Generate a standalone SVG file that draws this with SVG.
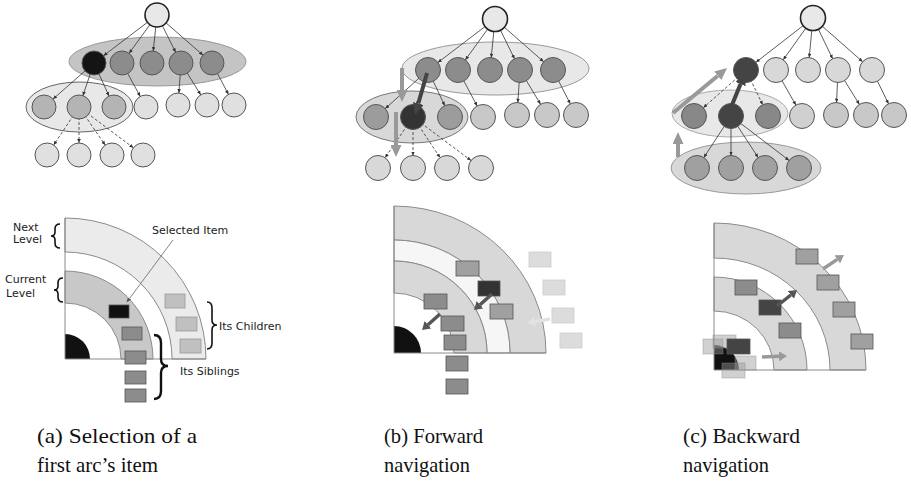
<svg xmlns="http://www.w3.org/2000/svg" width="911" height="485" viewBox="0 0 911 485">
<defs>
<style>
.n{stroke:#555;stroke-width:1}
.rt{fill:#e8e8e8;stroke:#222;stroke-width:1.6}
.e{stroke:#333;stroke-width:0.8;fill:none}
.ds{stroke-dasharray:3 2}
.lbl{font-family:"DejaVu Sans",Verdana,sans-serif;font-size:11px;fill:#222}
.cap{font-family:"Liberation Serif","Times New Roman",serif;font-size:21px;fill:#111}
.br{fill:none;stroke:#111;stroke-width:1.6}
.q{stroke:#8a8a8a;stroke-width:1}
.rk{stroke:#555;stroke-width:0.8}
</style>
<marker id="e12" markerUnits="userSpaceOnUse" markerWidth="4" markerHeight="3.6" refX="16" refY="1.8" orient="auto"><path d="M0,0 L4,1.8 L0,3.6 Z" fill="#333"/></marker>
<marker id="e125" markerUnits="userSpaceOnUse" markerWidth="4" markerHeight="3.6" refX="16.5" refY="1.8" orient="auto"><path d="M0,0 L4,1.8 L0,3.6 Z" fill="#333"/></marker>
<marker id="bg" markerUnits="userSpaceOnUse" markerWidth="12" markerHeight="11" refX="0" refY="5.5" orient="auto"><path d="M0,0 L12,5.5 L0,11 Z" fill="#999"/></marker>
<marker id="bd" markerUnits="userSpaceOnUse" markerWidth="12" markerHeight="11" refX="0" refY="5.5" orient="auto"><path d="M0,0 L12,5.5 L0,11 Z" fill="#444"/></marker>
<marker id="sd" markerUnits="userSpaceOnUse" markerWidth="8" markerHeight="10" refX="0" refY="5" orient="auto"><path d="M0,0 L8,5 L0,10 Z" fill="#555"/></marker>
<marker id="sg" markerUnits="userSpaceOnUse" markerWidth="8" markerHeight="10" refX="0" refY="5" orient="auto"><path d="M0,0 L8,5 L0,10 Z" fill="#999"/></marker>
<marker id="sl" markerUnits="userSpaceOnUse" markerWidth="8" markerHeight="10" refX="0" refY="5" orient="auto"><path d="M0,0 L8,5 L0,10 Z" fill="#e2e2e2"/></marker>
<marker id="ta" markerUnits="userSpaceOnUse" markerWidth="5" markerHeight="4" refX="0" refY="2" orient="auto"><path d="M0,0 L5,2 L0,4 Z" fill="#555"/></marker>
</defs>
<rect width="911" height="485" fill="#fff"/>

<!-- ===== Panel (a) tree ===== -->
<g id="a-groups">
<ellipse cx="157.5" cy="61.5" rx="88.5" ry="24.5" fill="#c4c4c4" stroke="#999"/>
<ellipse cx="79.5" cy="107" rx="53.5" ry="25" fill="#e8e8e8" stroke="#666"/>
</g>

<!-- ===== Panel (b) tree ===== -->
<g id="b-groups">
<ellipse cx="495.5" cy="68.5" rx="93.5" ry="26.5" fill="#e8e8e8" stroke="#999"/>
<ellipse cx="412" cy="117" rx="56" ry="26" fill="#d8d8d8" stroke="#777"/>
</g>

<!-- ===== Panel (c) tree ===== -->
<g id="c-groups">
<ellipse cx="730" cy="113.5" rx="58" ry="23.5" fill="#e8e8e8" stroke="#aaa"/>
<ellipse cx="746" cy="168" rx="75" ry="26" fill="#d8d8d8" stroke="#999"/>
</g>

<g id="connectors">
<!-- (a) -->
<g class="e" marker-end="url(#e12)">
<line x1="157" y1="15" x2="94" y2="63"/>
<line x1="157" y1="15" x2="122" y2="63"/>
<line x1="157" y1="15" x2="152" y2="63"/>
<line x1="157" y1="15" x2="181" y2="63"/>
<line x1="157" y1="15" x2="212" y2="63"/>
<line x1="94" y1="63" x2="44" y2="107"/>
<line x1="94" y1="63" x2="79" y2="107"/>
<line x1="94" y1="63" x2="114" y2="107"/>
<line x1="122" y1="63" x2="146" y2="107"/>
<line x1="181" y1="63" x2="178" y2="105"/>
<line x1="181" y1="63" x2="207" y2="105"/>
<line x1="212" y1="63" x2="234" y2="105"/>
<line class="ds" x1="79" y1="107" x2="47" y2="155"/>
<line class="ds" x1="79" y1="107" x2="79" y2="155"/>
<line class="ds" x1="79" y1="107" x2="112" y2="155"/>
<line class="ds" x1="79" y1="107" x2="143" y2="155"/>
</g>
<!-- (b) -->
<g class="e" marker-end="url(#e125)">
<line x1="495" y1="19" x2="428" y2="70"/>
<line x1="495" y1="19" x2="458" y2="70"/>
<line x1="495" y1="19" x2="490" y2="70"/>
<line x1="495" y1="19" x2="520" y2="70"/>
<line x1="495" y1="19" x2="553" y2="70"/>
<line x1="428" y1="70" x2="376" y2="117"/>
<line x1="428" y1="70" x2="413" y2="117"/>
<line x1="428" y1="70" x2="450" y2="117"/>
<line x1="458" y1="70" x2="483" y2="117"/>
<line x1="520" y1="70" x2="517" y2="115"/>
<line x1="520" y1="70" x2="547" y2="115"/>
<line x1="553" y1="70" x2="576" y2="115"/>
<line class="ds" x1="413" y1="117" x2="378" y2="168"/>
<line class="ds" x1="413" y1="117" x2="413" y2="168"/>
<line class="ds" x1="413" y1="117" x2="447" y2="168"/>
<line class="ds" x1="413" y1="117" x2="481" y2="168"/>
</g>
<!-- (c) -->
<g class="e" marker-end="url(#e125)">
<line x1="813" y1="18" x2="746" y2="70"/>
<line x1="813" y1="18" x2="776" y2="70"/>
<line x1="813" y1="18" x2="808" y2="70"/>
<line x1="813" y1="18" x2="838" y2="70"/>
<line x1="813" y1="18" x2="872" y2="70"/>
<line class="ds" x1="746" y1="70" x2="694" y2="116"/>
<line class="ds" x1="746" y1="70" x2="768" y2="116"/>
<line x1="776" y1="70" x2="802" y2="116"/>
<line x1="838" y1="70" x2="836" y2="115"/>
<line x1="838" y1="70" x2="866" y2="115"/>
<line x1="872" y1="70" x2="894" y2="115"/>
<line x1="731" y1="116" x2="697" y2="168"/>
<line x1="731" y1="116" x2="731" y2="168"/>
<line x1="731" y1="116" x2="765" y2="168"/>
<line x1="731" y1="116" x2="799" y2="168"/>
</g>
</g>

<!-- nodes (a) -->
<g id="a-root"><circle class="rt" cx="157" cy="15" r="12"/></g>
<g id="a-l1"><circle class="n" cx="94" cy="63" r="12" fill="#141414"/><circle class="n" cx="122" cy="63" r="12" fill="#8c8c8c"/><circle class="n" cx="152" cy="63" r="12" fill="#8c8c8c"/><circle class="n" cx="181" cy="63" r="12" fill="#8c8c8c"/><circle class="n" cx="212" cy="63" r="12" fill="#8c8c8c"/></g>
<g id="a-l2"><circle class="n" cx="44" cy="107" r="12" fill="#b4b4b4"/><circle class="n" cx="79" cy="107" r="12" fill="#b4b4b4"/><circle class="n" cx="114" cy="107" r="12" fill="#b4b4b4"/><circle class="n" cx="146" cy="107" r="12" fill="#e0e0e0"/><circle class="n" cx="178" cy="105" r="12" fill="#e0e0e0"/><circle class="n" cx="207" cy="105" r="12" fill="#e0e0e0"/><circle class="n" cx="234" cy="105" r="12" fill="#e0e0e0"/></g>
<g id="a-l3"><circle class="n" cx="47" cy="155" r="12" fill="#e0e0e0"/><circle class="n" cx="79" cy="155" r="12" fill="#e0e0e0"/><circle class="n" cx="112" cy="155" r="12" fill="#e0e0e0"/><circle class="n" cx="143" cy="155" r="12" fill="#e0e0e0"/></g>

<!-- nodes (b) -->
<g id="b-root"><circle class="rt" cx="495" cy="19" r="12.5"/></g>
<g id="b-l1"><circle class="n" cx="428" cy="70" r="12.5" fill="#8c8c8c"/><circle class="n" cx="458" cy="70" r="12.5" fill="#8c8c8c"/><circle class="n" cx="490" cy="70" r="12.5" fill="#8c8c8c"/><circle class="n" cx="520" cy="70" r="12.5" fill="#8c8c8c"/><circle class="n" cx="553" cy="70" r="12.5" fill="#8c8c8c"/></g>
<g id="b-l2"><circle class="n" cx="376" cy="117" r="12.5" fill="#9c9c9c"/><circle class="n" cx="413" cy="117" r="12.5" fill="#333"/><circle class="n" cx="450" cy="117" r="12.5" fill="#9c9c9c"/><circle class="n" cx="483" cy="117" r="12.5" fill="#c8c8c8"/><circle class="n" cx="517" cy="115" r="12.5" fill="#c8c8c8"/><circle class="n" cx="547" cy="115" r="12.5" fill="#c8c8c8"/><circle class="n" cx="576" cy="115" r="12.5" fill="#c8c8c8"/></g>
<g id="b-l3"><circle class="n" cx="378" cy="168" r="12.5" fill="#d8d8d8"/><circle class="n" cx="413" cy="168" r="12.5" fill="#d8d8d8"/><circle class="n" cx="447" cy="168" r="12.5" fill="#d8d8d8"/><circle class="n" cx="481" cy="168" r="12.5" fill="#d8d8d8"/></g>
<g id="b-moves">
<line x1="402" y1="68" x2="402" y2="90" stroke="#999" stroke-width="4" marker-end="url(#bg)"/>
<line x1="396" y1="112" x2="396" y2="145" stroke="#999" stroke-width="4" marker-end="url(#bg)"/>
<line x1="427" y1="73" x2="418.3" y2="103.5" stroke="#444" stroke-width="4" marker-end="url(#bd)"/>
</g>

<!-- nodes (c) -->
<g id="c-root"><circle class="rt" cx="813" cy="18" r="12.5"/></g>
<g id="c-l1"><circle class="n" cx="746" cy="70" r="12.5" fill="#444"/><circle class="n" cx="776" cy="70" r="12.5" fill="#d8d8d8"/><circle class="n" cx="808" cy="70" r="12.5" fill="#d8d8d8"/><circle class="n" cx="838" cy="70" r="12.5" fill="#d8d8d8"/><circle class="n" cx="872" cy="70" r="12.5" fill="#d8d8d8"/></g>
<g id="c-l2"><circle class="n" cx="694" cy="116" r="12.5" fill="#888"/><circle class="n" cx="731" cy="116" r="12.5" fill="#444"/><circle class="n" cx="768" cy="116" r="12.5" fill="#888"/><circle class="n" cx="802" cy="116" r="12.5" fill="#d0d0d0"/><circle class="n" cx="836" cy="115" r="12.5" fill="#c8c8c8"/><circle class="n" cx="866" cy="115" r="12.5" fill="#c8c8c8"/><circle class="n" cx="894" cy="115" r="12.5" fill="#c8c8c8"/></g>
<g id="c-l3"><circle class="n" cx="697" cy="168" r="12.5" fill="#a0a0a0"/><circle class="n" cx="731" cy="168" r="12.5" fill="#a0a0a0"/><circle class="n" cx="765" cy="168" r="12.5" fill="#a0a0a0"/><circle class="n" cx="799" cy="168" r="12.5" fill="#a0a0a0"/></g>
<g id="c-moves">
<line x1="673" y1="113" x2="717.8" y2="75.7" stroke="#999" stroke-width="4" marker-end="url(#bg)"/>
<line x1="678" y1="157" x2="678" y2="144" stroke="#999" stroke-width="4" marker-end="url(#bg)"/>
<line x1="732" y1="105" x2="740.5" y2="84.1" stroke="#444" stroke-width="4" marker-end="url(#bd)"/>
</g>

<!-- ===== Panel (a) quadrant ===== -->
<g id="qa">
<path class="q" d="M65,218 A141,141 0 0 1 206,359 L172,359 A107,107 0 0 0 65,252 Z" fill="#ebebeb"/>
<path class="q" d="M65,271 A88,88 0 0 1 153,359 L121,359 A56,56 0 0 0 65,303 Z" fill="#c8c8c8"/>
<path d="M65,334 A25,25 0 0 1 90,359 L65,359 Z" fill="#111"/>
<path class="q" d="M65,218 V359 H206" fill="none"/>
<rect class="rk" x="109" y="305" width="20" height="13" fill="#111"/>
<rect class="rk" x="122" y="327" width="20" height="13" fill="#8c8c8c"/>
<rect class="rk" x="125" y="351" width="21" height="13" fill="#8c8c8c"/>
<rect class="rk" x="125" y="371" width="21" height="13" fill="#8c8c8c"/>
<rect class="rk" x="125" y="389" width="21" height="13" fill="#8c8c8c"/>
<rect x="165" y="294" width="20" height="14" fill="#c0c0c0" stroke="#999" stroke-width="0.8"/>
<rect x="176" y="317" width="21" height="14" fill="#c0c0c0" stroke="#999" stroke-width="0.8"/>
<rect x="180" y="339" width="21" height="14" fill="#c0c0c0" stroke="#999" stroke-width="0.8"/>
</g>
<g id="qa-labels">
<text class="lbl" x="13" y="231">Next</text>
<text class="lbl" x="13" y="243">Level</text>
<path class="br" d="M60,224 Q55,224 55,229 L55,232 Q55,236 51,236 Q55,236 55,240 L55,243 Q55,248 60,248"/>
<text class="lbl" x="5" y="283">Current</text>
<text class="lbl" x="6" y="297">Level</text>
<path class="br" d="M63,278 Q58,278 58,283 L58,286 Q58,290 54,290 Q58,290 58,294 L58,297 Q58,302 63,302"/>
<text class="lbl" x="152" y="234">Selected Item</text>
<line x1="173" y1="240" x2="129.5" y2="298.5" stroke="#666" stroke-width="0.8" marker-end="url(#ta)"/>
<path class="br" d="M207,302 Q212,302 212,308 L212,320 Q212,325 217,325 Q212,325 212,330 L212,343 Q212,349 207,349"/>
<text class="lbl" x="219" y="330">Its Children</text>
<path class="br" style="stroke-width:2.4" d="M154,335 Q161,335 161,343 L161,359 Q161,366 168,366 Q161,366 161,373 L161,391 Q161,399 154,399"/>
<text class="lbl" x="180" y="375">Its Siblings</text>
</g>

<!-- ===== Panel (b) quadrant ===== -->
<g id="qb">
<path class="q" d="M394,206 A152,147 0 0 1 546,353 L510,353 A116,113 0 0 0 394,240 Z" fill="#d8d8d8"/>
<path class="q" d="M394,240 A116,113 0 0 1 510,353 L487,353 A93,92 0 0 0 394,261 Z" fill="#f6f6f6"/>
<path class="q" d="M394,261 A93,92 0 0 1 487,353 L454,353 A60,60 0 0 0 394,293 Z" fill="#d8d8d8"/>
<path d="M394,326 A27,27 0 0 1 421,353 L394,353 Z" fill="#111"/>
<path class="q" d="M394,206 V353 H546" fill="none"/>
<g stroke="#ccc" stroke-width="0.8" fill="#dcdcdc">
<rect x="529" y="252" width="22" height="15"/>
<rect x="543" y="280" width="22" height="15"/>
<rect x="552" y="308" width="22" height="15"/>
<rect x="560" y="333" width="22" height="15"/>
</g>
<line x1="550" y1="319" x2="534.9" y2="321.6" stroke="#e2e2e2" stroke-width="3.5" marker-end="url(#sl)"/>
<rect class="rk" x="456" y="261" width="23" height="15" fill="#a0a0a0"/>
<rect class="rk" x="490" y="304" width="23" height="15" fill="#a0a0a0"/>
<rect class="rk" x="478" y="281" width="22" height="15" fill="#333"/>
<rect class="rk" x="424" y="294" width="23" height="15" fill="#8c8c8c"/>
<rect class="rk" x="441" y="316" width="23" height="15" fill="#8c8c8c"/>
<rect class="rk" x="444" y="335" width="22" height="15" fill="#8c8c8c"/>
<rect class="rk" x="446" y="356" width="22" height="15" fill="#8c8c8c"/>
<rect class="rk" x="446" y="379" width="22" height="15" fill="#8c8c8c"/>
<line x1="492" y1="294" x2="480" y2="304.7" stroke="#555" stroke-width="3.5" marker-end="url(#sd)"/>
<line x1="440" y1="314" x2="428" y2="324.7" stroke="#555" stroke-width="3.5" marker-end="url(#sd)"/>
</g>

<!-- ===== Panel (c) quadrant ===== -->
<g id="qc">
<path class="q" d="M714,223 A152,147 0 0 1 866,370 L830,370 A116,112 0 0 0 714,258 Z" fill="#d8d8d8"/>
<path class="q" d="M714,277 A93,93 0 0 1 807,370 L774,370 A60,59 0 0 0 714,311 Z" fill="#d8d8d8"/>
<path d="M714,345 A25,25 0 0 1 739,370 L714,370 Z" fill="#111"/>
<path class="q" d="M714,223 V370 H866" fill="none"/>
<rect class="rk" x="796" y="249" width="22" height="15" fill="#a0a0a0"/>
<rect class="rk" x="817" y="275" width="22" height="15" fill="#a0a0a0"/>
<rect class="rk" x="833" y="302" width="22" height="15" fill="#a0a0a0"/>
<rect class="rk" x="851" y="334" width="22" height="15" fill="#a0a0a0"/>
<rect class="rk" x="735" y="280" width="22" height="15" fill="#8c8c8c"/>
<rect class="rk" x="779" y="323" width="22" height="15" fill="#8c8c8c"/>
<rect class="rk" x="759" y="300" width="22" height="15" fill="#444"/>
<g fill="#999" fill-opacity="0.45" stroke="#888" stroke-opacity="0.5" stroke-width="0.8">
<rect x="703" y="339" width="20" height="15"/>
<rect x="713" y="335" width="23" height="13"/>
<rect x="735" y="356" width="21" height="14"/>
<rect x="722" y="363" width="23" height="15"/>
</g>
<rect class="rk" x="727" y="339" width="23" height="15" fill="#444"/>
<line x1="823" y1="269" x2="837.3" y2="259.4" stroke="#999" stroke-width="3.5" marker-end="url(#sg)"/>
<line x1="777" y1="306" x2="790.8" y2="295" stroke="#555" stroke-width="3.5" marker-end="url(#sd)"/>
<line x1="762" y1="357" x2="779" y2="356.3" stroke="#999" stroke-width="3.5" marker-end="url(#sg)"/>
</g>

<!-- captions -->
<g id="captions">
<text class="cap" x="37" y="443" textLength="160" lengthAdjust="spacingAndGlyphs">(a) Selection of a</text>
<text class="cap" x="37" y="472" textLength="121" lengthAdjust="spacingAndGlyphs">first arc’s item</text>
<text class="cap" x="384" y="443" textLength="99" lengthAdjust="spacingAndGlyphs">(b) Forward</text>
<text class="cap" x="384" y="472" textLength="86" lengthAdjust="spacingAndGlyphs">navigation</text>
<text class="cap" x="683" y="443" textLength="117" lengthAdjust="spacingAndGlyphs">(c) Backward</text>
<text class="cap" x="683" y="472" textLength="86" lengthAdjust="spacingAndGlyphs">navigation</text>
</g>
</svg>
